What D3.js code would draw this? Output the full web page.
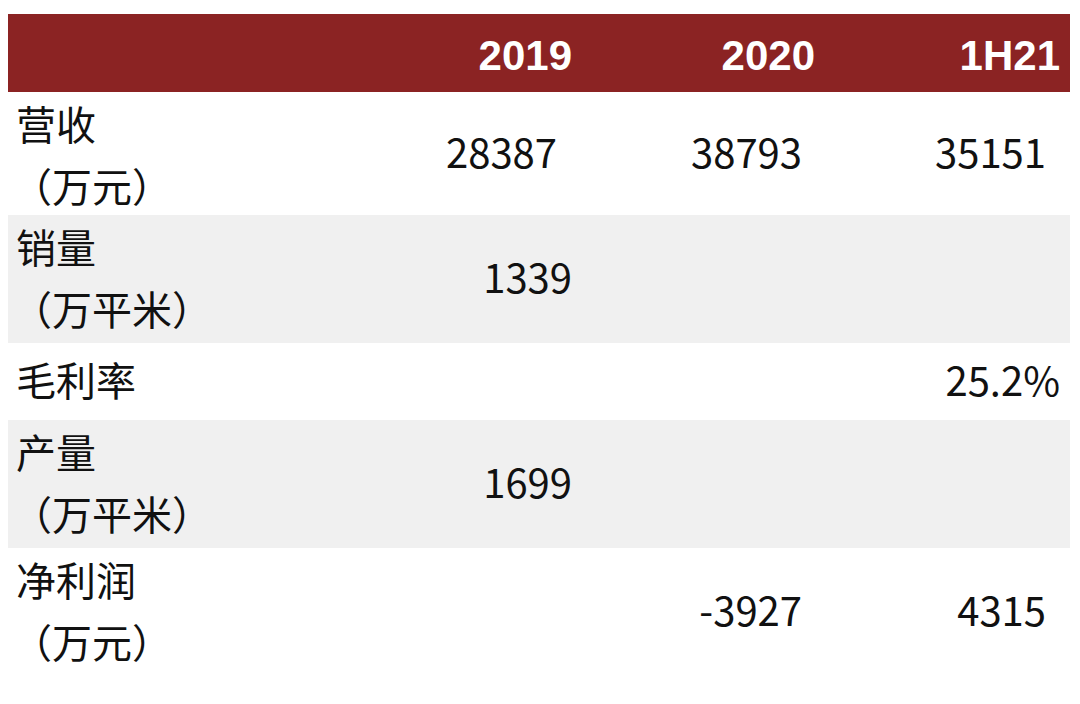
<!DOCTYPE html>
<html><head><meta charset="utf-8">
<script src="https://cdn.jsdelivr.net/npm/d3@7/dist/d3.min.js"></script>
<style>body{margin:0;background:#fff}</style></head>
<body><svg id="c" width="1080" height="704"></svg>
<script>
const columns = ["2019","2020","1H21"];
const rowLabels = [["营收","（万元）"],["销量","（万平米）"],["毛利率"],["产量","（万平米）"],["净利润","（万元）"]];
const values = [
  ["28387","38793","35151"],
  ["1339","",""],
  ["","","25.2%"],
  ["1699","",""],
  ["","-3927","4315"]
];
const valueEnds = [
  [557,802,1046],
  [572,802,1046],
  [572,802,1060],
  [572,802,1046],
  [557,802,1046]
];
const rowHeights = [123,128,77,128,127];
const font = "'Noto Sans CJK SC','Noto Sans',sans-serif";
const svg = d3.select("#c");
const colX = d3.scaleOrdinal().domain(columns).range([572,815,1060]);
svg.append("rect").attr("x",8).attr("y",14).attr("width",1062).attr("height",78).attr("fill","#8B2323");
svg.selectAll("text.h").data(columns).enter().append("text")
  .attr("x",d=>colX(d)).attr("y",70).attr("text-anchor","end")
  .attr("fill","#fff").attr("font-weight","bold").attr("font-size",42).attr("font-family","Arial,'Liberation Sans',sans-serif").text(d=>d);
let y0 = 92;
const tops = rowHeights.map(h=>{const t=y0; y0+=h; return t;});
const g = svg.selectAll("g.r").data(rowLabels).enter().append("g").attr("transform",(d,i)=>`translate(0,${tops[i]})`);
g.append("rect").attr("x",8).attr("width",1062).attr("height",(d,i)=>rowHeights[i]).attr("fill",(d,i)=>i%2?"#f0f0f0":"#fff");
g.each(function(lbl,i){
  const s=d3.select(this), h=rowHeights[i];
  lbl.forEach((t,k)=>{
    const y = lbl.length===1 ? h/2+14 : (k===0?48:110);
    s.append("text").attr("x",k===0?16:12).attr("y",y).attr("font-size",40).attr("font-family",font).attr("fill","#111").text(t);
  });
  values[i].forEach((v,j)=>{
    if(!v) return;
    s.append("text").attr("x",valueEnds[i][j]).attr("y",h/2+14).attr("text-anchor","end")
      .attr("font-size",40).attr("font-family",font).attr("fill","#111").text(v);
  });
});
</script></body></html>
